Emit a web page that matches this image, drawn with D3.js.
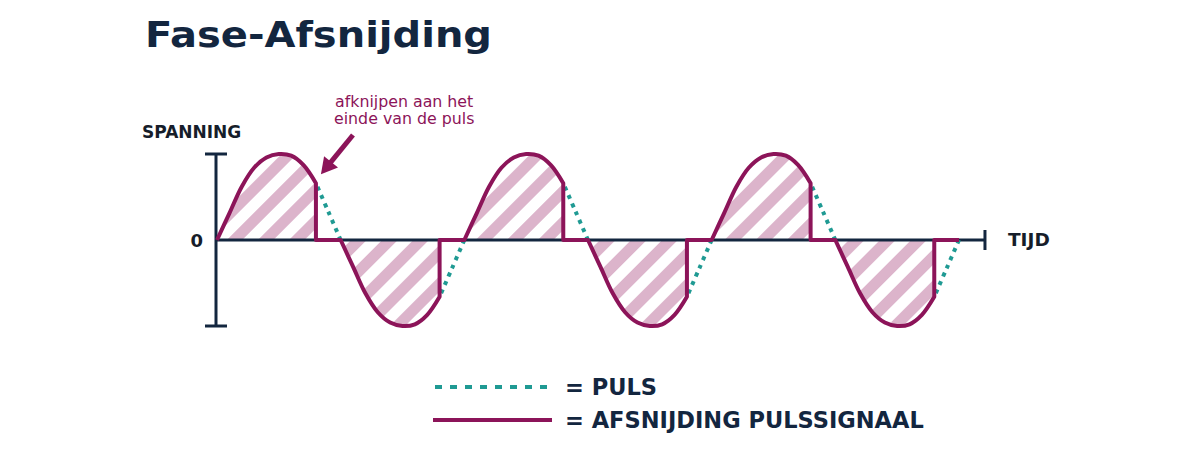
<!DOCTYPE html>
<html>
<head>
<meta charset="utf-8">
<script src="https://cdn.jsdelivr.net/npm/d3@7"></script>
<style>
  html, body { margin: 0; padding: 0; background: #fff; }
  svg { display: block; }
  text { font-family: "DejaVu Sans", sans-serif; }
</style>
</head>
<body>
<svg id="chart" width="1200" height="450"></svg>
<script>
// time in half-periods, voltage relative to the peak
var tijd = d3.range(0, 6.001, 0.1);
var puls = [
   0, 0.31, 0.62, 0.84, 0.96, 1.00, 0.98, 0.87, 0.66, 0.33,
   0,-0.31,-0.62,-0.84,-0.96,-1.00,-0.98,-0.87,-0.66,-0.33,
   0, 0.31, 0.62, 0.84, 0.96, 1.00, 0.98, 0.87, 0.66, 0.33,
   0,-0.31,-0.62,-0.84,-0.96,-1.00,-0.98,-0.87,-0.66,-0.33,
   0, 0.31, 0.62, 0.84, 0.96, 1.00, 0.98, 0.87, 0.66, 0.33,
   0,-0.31,-0.62,-0.84,-0.96,-1.00,-0.98,-0.87,-0.66,-0.33,
   0
];
var halfStart = [0, 1, 2, 3, 4, 5];
var afsnijT = [0.8, 1.8, 2.8, 3.8, 4.8, 5.8];
var tijdEind = 6.21;
var legendLabels = ["= PULS", "= AFSNIJDING PULSSIGNAAL"];
var annLines = ["afknijpen aan het", "einde van de puls"];

var navy = "#13263f", magenta = "#8c1459", teal = "#1f9a93", roze = "#dcb4cb";

var svg = d3.select("#chart");

var x = d3.scaleLinear().domain([0, 6]).range([217, 959]);
var y = d3.scaleLinear().domain([-1, 1]).range([326, 154]);

var pts = tijd.map(function(t, i) { return {t: t, v: puls[i]}; });

// hatch pattern
var defs = svg.append("defs");
var pat = defs.append("pattern")
    .attr("id", "hatch")
    .attr("patternUnits", "userSpaceOnUse")
    .attr("width", 22).attr("height", 22)
    .attr("patternTransform", "rotate(45)");
pat.append("rect").attr("width", 11).attr("height", 22).attr("fill", roze);

var line = d3.line()
    .x(function(d) { return x(d.t); })
    .y(function(d) { return y(d.v); })
    .curve(d3.curveCatmullRom);

// title
svg.append("text")
    .attr("x", 145).attr("y", 47)
    .attr("font-size", 35).attr("font-weight", "bold")
    .attr("textLength", 347).attr("lengthAdjust", "spacingAndGlyphs")
    .attr("fill", navy)
    .text("Fase-Afsnijding");

// hatched areas
var humpD = [];
halfStart.forEach(function(k, i) {
  var seg = pts.filter(function(d) { return d.t >= k - 1e-9 && d.t <= afsnijT[i] + 1e-9; });
  humpD.push(line(seg));
});

svg.selectAll("path.fill")
  .data(humpD)
  .enter().append("path")
    .attr("class", "fill")
    .attr("d", function(d) { return d + "V" + y(0) + "Z"; })
    .attr("fill", "url(#hatch)");

// axes
var ax = svg.append("g").attr("stroke", navy).attr("stroke-width", 3).attr("fill", "none");
ax.append("line").attr("x1", x(0) - 1).attr("x2", x(0) - 1).attr("y1", y(-1)).attr("y2", y(1));
[-1, 1].forEach(function(v) {
  ax.append("line").attr("x1", x(0) - 12).attr("x2", x(0) + 10).attr("y1", y(v)).attr("y2", y(v));
});
ax.append("line").attr("x1", x(0) - 1).attr("x2", x(tijdEind)).attr("y1", y(0)).attr("y2", y(0));
ax.append("line").attr("x1", x(tijdEind)).attr("x2", x(tijdEind)).attr("y1", y(0) - 10).attr("y2", y(0) + 10);

// dotted pulse after the cut
halfStart.forEach(function(k, i) {
  var seg = pts.filter(function(d) { return d.t >= afsnijT[i] - 1e-9 && d.t <= k + 1 + 1e-9; });
  svg.append("path")
    .attr("d", line(seg))
    .attr("fill", "none")
    .attr("stroke", teal)
    .attr("stroke-width", 4)
    .attr("stroke-dasharray", "4,5")
    .attr("stroke-dashoffset", -4);
});

// cut signal
var cutD = halfStart.map(function(k, i) {
  var d = humpD[i] + "V" + y(0) + "H" + x(k + 1);
  return i === 0 ? d : d.replace(/^M/, "L");
}).join("");
svg.append("path")
    .attr("d", cutD)
    .attr("fill", "none")
    .attr("stroke", magenta)
    .attr("stroke-width", 4)
    .attr("stroke-linejoin", "round");

// axis labels
svg.append("text").attr("x", 142).attr("y", 138)
    .attr("font-size", 17).attr("font-weight", "bold").attr("fill", "#161d2a")
    .text("SPANNING");
svg.append("text").attr("x", 203).attr("y", y(0) + 7)
    .attr("text-anchor", "end")
    .attr("font-size", 18).attr("font-weight", "bold").attr("fill", "#161d2a")
    .text("0");
svg.append("text").attr("x", 1008).attr("y", y(0) + 6)
    .attr("font-size", 18.5).attr("font-weight", "bold").attr("fill", "#161d2a")
    .text("TIJD");

// annotation
svg.selectAll("text.ann")
  .data(annLines)
  .enter().append("text")
    .attr("class", "ann")
    .attr("x", function(d, i) { return 335 - i; })
    .attr("y", function(d, i) { return 107 + i * 17; })
    .attr("font-size", 15.8).attr("fill", magenta)
    .text(function(d) { return d; });

var tip = [x(afsnijT[0]) + 5, y(puls[8]) - 9];
var start = [353, 135];
var dx = tip[0] - start[0], dy = tip[1] - start[1], len = Math.sqrt(dx * dx + dy * dy);
var ux = dx / len, uy = dy / len;
var hl = 16, hw = 9;
var base = [tip[0] - hl * ux, tip[1] - hl * uy];
svg.append("line")
    .attr("x1", start[0]).attr("y1", start[1])
    .attr("x2", base[0] + ux * 2).attr("y2", base[1] + uy * 2)
    .attr("stroke", magenta).attr("stroke-width", 5);
svg.append("path")
    .attr("d", "M" + tip + "L" + [base[0] - hw * uy, base[1] + hw * ux] + "L" + [base[0] + hw * uy, base[1] - hw * ux] + "Z")
    .attr("fill", magenta);

// legend
var lg = svg.append("g");
lg.append("line").attr("x1", 435).attr("x2", 550).attr("y1", 387).attr("y2", 387)
    .attr("stroke", teal).attr("stroke-width", 4).attr("stroke-dasharray", "7,8");
lg.append("line").attr("x1", 433).attr("x2", 552).attr("y1", 420).attr("y2", 420)
    .attr("stroke", magenta).attr("stroke-width", 4);
lg.selectAll("text.lg")
  .data(legendLabels)
  .enter().append("text")
    .attr("class", "lg")
    .attr("x", 565)
    .attr("y", function(d, i) { return 395 + i * 33; })
    .attr("font-size", 22.5).attr("font-weight", "bold").attr("fill", navy)
    .text(function(d) { return d; });
</script>
</body>
</html>
